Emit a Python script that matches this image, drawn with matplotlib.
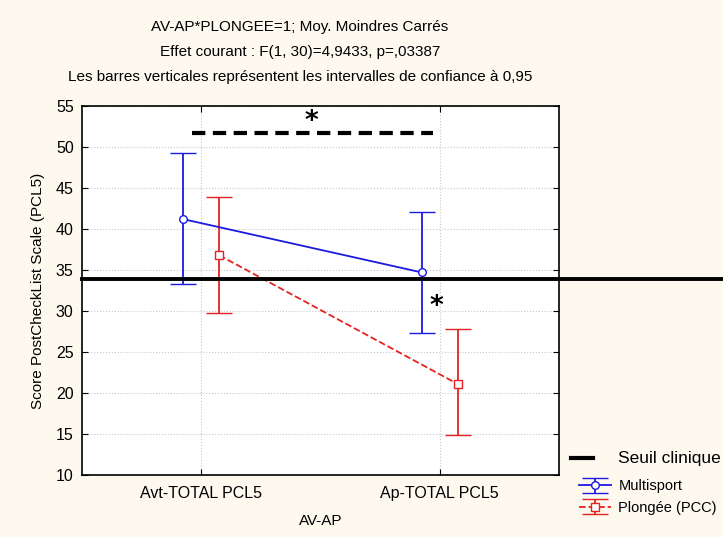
import matplotlib.pyplot as plt
import numpy as np
from matplotlib.lines import Line2D

# Données
categories = ["Avt-TOTAL PCL5", "Ap-TOTAL PCL5"]
multisport_mean = [41.2, 34.7]
multisport_low = [33.3, 27.3]
multisport_high = [49.3, 42.1]
plongee_mean = [36.8, 21.1]
plongee_low = [29.8, 14.9]
plongee_high = [43.9, 27.8]
seuil = 33.9

plt.rcParams['font.family'] = ['Liberation Sans', 'DejaVu Sans']

bg = '#fdf9ef'
fig = plt.figure(figsize=(7.23, 5.37), dpi=100, facecolor=bg)
ax = fig.add_axes([82 / 723, 1 - 475 / 537, 477 / 723, 369 / 537])
ax.set_facecolor('white')

x = np.arange(1, len(categories) + 1)
off = 0.075
blue = '#1a1ae0'
red = '#e52222'

m = np.array(multisport_mean)
p = np.array(plongee_mean)
eb1 = ax.errorbar(x - off, m, yerr=[m - np.array(multisport_low), np.array(multisport_high) - m],
                  color=blue, lw=1.3, capsize=9.5, capthick=1.3, marker='o', ms=5.5,
                  mfc='white', mec=blue, mew=1, label='Multisport', zorder=4)
eb2 = ax.errorbar(x + off, p, yerr=[p - np.array(plongee_low), np.array(plongee_high) - p],
                  color=red, lw=1.3, ls='--', capsize=9.5, capthick=1.3, marker='s', ms=5.5,
                  mfc='white', mec=red, mew=1, label='Plongée (PCC)', zorder=4)
eb2[2][0].set_linestyle('-')

# Seuil clinique jusqu'au bord droit de la figure
ax.axhline(seuil, xmin=0, xmax=(723 - 82) / 477, color='black', lw=2.8,
           clip_on=False, zorder=5)

# Comparaison significative
ax.plot([x[0] - 0.04, x[1] - 0.03], [51.7, 51.7], color='black', lw=3,
        ls=(0, (3.2, 1.8)), zorder=3)
ax.text(1.46, 53.0, '*', ha='center', va='center', fontsize=19,
        fontweight='bold', family='DejaVu Sans')
ax.text(1.985, 30.5, '*', ha='center', va='center', fontsize=19,
        fontweight='bold', family='DejaVu Sans')

ax.set_xlim(0.5, 2.5)
ax.set_ylim(10, 55)
ax.set_yticks(np.arange(10, 56, 5))
ax.set_xticks(x)
ax.set_xticklabels(categories)
ax.grid(True, color='#c8c8c8', ls=':', lw=0.8)
ax.set_axisbelow(True)
ax.tick_params(direction='in', top=True, right=True, length=4, labelsize=11.5,
               pad=6)
ax.tick_params(axis='x', pad=8)
for s in ax.spines.values():
    s.set_linewidth(1.2)
ax.set_xlabel('AV-AP', fontsize=11, labelpad=9)
ax.set_ylabel('Score PostCheckList Scale (PCL5)', fontsize=11, labelpad=8)

# Titres
fig.text(300 / 723, 1 - 27 / 537, 'AV-AP*PLONGEE=1; Moy. Moindres Carrés',
         ha='center', va='center', fontsize=11)
fig.text(300 / 723, 1 - 52 / 537, 'Effet courant : F(1, 30)=4,9433, p=,03387',
         ha='center', va='center', fontsize=11)
fig.text(300 / 723, 1 - 77 / 537,
         'Les barres verticales représentent les intervalles de confiance à 0,95',
         ha='center', va='center', fontsize=11)

# Légende du seuil
fig.add_artist(Line2D([571 / 723, 593 / 723], [1 - 458 / 537, 1 - 458 / 537],
                      color='black', lw=3))
fig.text(618 / 723, 1 - 458 / 537, 'Seuil clinique', ha='left', va='center',
         fontsize=12.5)

# Légende des séries
fig.legend([eb1, eb2], ['Multisport', 'Plongée (PCC)'],
           loc='center left', bbox_to_anchor=(566 / 723, 1 - 497 / 537),
           frameon=False, fontsize=10.5, handlelength=2.2, handletextpad=0.5,
           labelspacing=0.5)

fig.savefig('out.png', dpi=100, facecolor=bg)
